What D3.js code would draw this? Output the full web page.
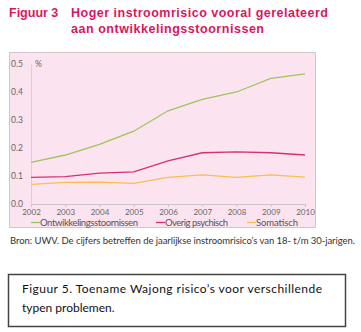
<!DOCTYPE html>
<html><head><meta charset="utf-8">
<script src="https://cdn.jsdelivr.net/npm/d3@7"></script>
<style>body{margin:0;background:#fff}svg{display:block}</style>
</head><body>
<script>
const years = [2002,2003,2004,2005,2006,2007,2008,2009,2010];
const ontwikkeling = [0.149,0.175,0.213,0.260,0.333,0.374,0.400,0.449,0.465];
const overigPsychisch = [0.095,0.098,0.110,0.115,0.154,0.183,0.186,0.183,0.175];
const somatisch = [0.070,0.077,0.078,0.074,0.095,0.104,0.095,0.104,0.096];
const seriesNames = ["Ontwikkelingsstoornissen","Overig psychisch","Somatisch"];
const colors = ["#9ec45e","#d62f78","#f9bf4e"];
const yTicks = [0.0,0.1,0.2,0.3,0.4,0.5];

const W=361,H=332;
const svg=d3.select("body").append("svg").attr("width",W).attr("height",H);

// title
const tf="'Liberation Sans', Arial, sans-serif";
svg.append("text").attr("x",9).attr("y",17).attr("fill","#d8175f").attr("font-family",tf)
  .attr("font-weight","bold").attr("font-size",12.5).text("Figuur 3");
svg.append("text").attr("x",71).attr("y",17).attr("fill","#d8175f").attr("font-family",tf)
  .attr("font-weight","bold").attr("font-size",12.5).attr("textLength",257).text("Hoger instroomrisico vooral gerelateerd");
svg.append("text").attr("x",71).attr("y",33).attr("fill","#d8175f").attr("font-family",tf)
  .attr("font-weight","bold").attr("font-size",12.5).attr("textLength",193).text("aan ontwikkelingsstoornissen");

// panel
svg.append("rect").attr("x",9.5).attr("y",52.5).attr("width",306).attr("height",175)
  .attr("fill","#fbe4ef").attr("stroke","#cfc7cc").attr("stroke-width",1);

const x=d3.scaleLinear().domain([2002,2010]).range([31,305]);
const y=d3.scaleLinear().domain([0,0.5]).range([204,64]);

const af="Lato, sans-serif";
// axes
const gx=svg.append("g").attr("transform","translate(0,204)")
  .call(d3.axisBottom(x).tickValues(years).tickFormat(d3.format("d")).tickSize(3));
gx.select(".domain").attr("stroke","#c9c2c8");
gx.selectAll(".tick line").attr("stroke","#c9c2c8");
gx.selectAll("text").attr("fill","#666").attr("font-family",af).attr("font-size",8)
  .attr("y",0).attr("dy",0).attr("transform","translate(0,11)");

const gy=svg.append("g").attr("transform","translate(31,0)")
  .call(d3.axisLeft(y).tickValues(yTicks).tickFormat(d3.format(".1f")).tickSize(0));
gy.select(".domain").attr("stroke","#d9d0d6");
gy.selectAll("text").attr("fill","#666").attr("font-family",af).attr("font-size",8.5)
  .attr("text-anchor","start").attr("x",-20);
svg.append("text").attr("x",35).attr("y",y(0.5)+3).attr("fill","#666").attr("font-family",af)
  .attr("font-size",8.5).text("%");

// lines
const data=[ontwikkeling,overigPsychisch,somatisch];
const line=d3.line().x((d,i)=>x(years[i])).y(d=>y(d));
data.forEach((s,k)=>{
  svg.append("path").datum(s).attr("d",line).attr("fill","none")
    .attr("stroke",colors[k]).attr("stroke-width",1.3);
});

// legend
const legX=[31,156,247];
const legW=[98,63,42];
seriesNames.forEach((n,k)=>{
  svg.append("line").attr("x1",legX[k]).attr("x2",legX[k]+9).attr("y1",222.5).attr("y2",222.5)
    .attr("stroke",colors[k]).attr("stroke-width",1.3);
  svg.append("text").attr("x",legX[k]+9).attr("y",226).attr("fill","#555")
    .attr("font-family",af).attr("font-size",9.5).attr("textLength",legW[k]).text(n);
});

// source
svg.append("text").attr("x",10).attr("y",243.5).attr("fill","#333").attr("font-family",af)
  .attr("font-size",9.5).attr("textLength",345).text("Bron:  UWV. De cijfers betreffen de jaarlijkse instroomrisico’s van 18- t/m 30-jarigen.");

// caption box
svg.append("rect").attr("x",8.5).attr("y",274.5).attr("width",337).attr("height",52)
  .attr("fill","#fff").attr("stroke","#444").attr("stroke-width",1.5);
svg.append("text").attr("x",22).attr("y",293).attr("fill","#111").attr("font-family","Lato, sans-serif")
  .attr("font-size",12).attr("textLength",300).text("Figuur 5. Toename Wajong risico’s voor  verschillende");
svg.append("text").attr("x",22).attr("y",312).attr("fill","#111").attr("font-family","Lato, sans-serif")
  .attr("font-size",12).text("typen problemen.");
</script>
</body></html>
